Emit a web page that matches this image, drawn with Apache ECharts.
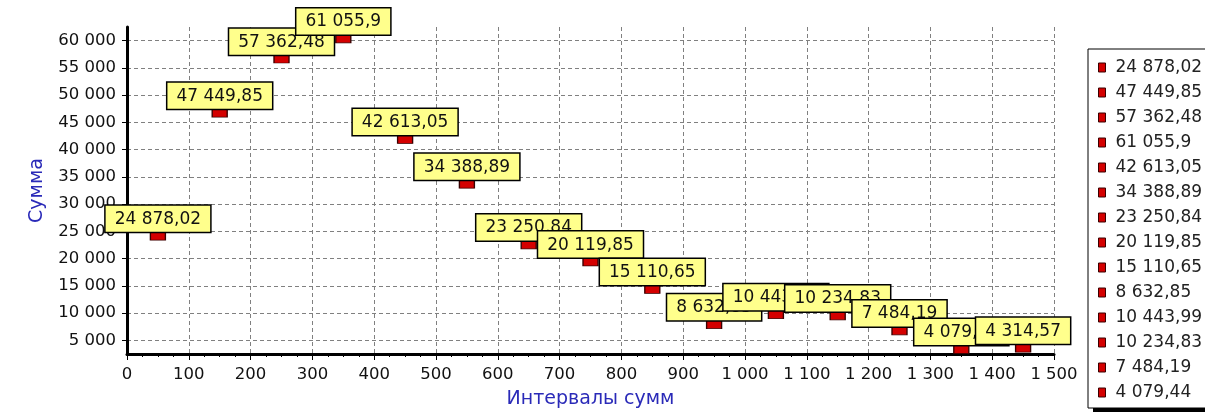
<!DOCTYPE html>
<html><head><meta charset="utf-8">
<script src="https://cdn.jsdelivr.net/npm/echarts@6/dist/echarts.min.js"></script>
<style>html,body{margin:0;padding:0;background:#fff}#c{width:1205px;height:416px}</style>
</head><body><div id="c"></div>
<script>
// Data
const intervalMids = [50, 150, 250, 350, 450, 550, 650, 750, 850, 950, 1050, 1150, 1250, 1350, 1450];
const sums = [24878.02, 47449.85, 57362.48, 61055.9, 42613.05, 34388.89, 23250.84, 20119.85, 15110.65, 8632.85, 10443.99, 10234.83, 7484.19, 4079.44, 4314.57];
const yTickValues = [5000, 10000, 15000, 20000, 25000, 30000, 35000, 40000, 45000, 50000, 55000, 60000];
const legendVisibleCount = 14;
const xAxisTitle = 'Интервалы сумм';
const yAxisTitle = 'Сумма';

const FONT = 'DejaVu Sans';
function fmt(v) {
  const parts = String(v).split('.');
  const ip = parts[0].replace(/\B(?=(\d{3})+(?!\d))/g, ' ');
  return parts[1] ? ip + ',' + parts[1] : ip;
}
const names = sums.map(fmt);

const chart = echarts.init(document.getElementById('c'), null, {renderer: 'canvas'});
chart.setOption({
  animation: false,
  backgroundColor: '#fff',
  grid: {left: 127, right: 151, top: 27, bottom: 62, containLabel: false, outerBoundsMode: 'none'},
  tooltip: {show: false},
  graphic: [{
    type: 'rect', z: 1, silent: true,
    shape: {x: 1093, y: 54, width: 200, height: 358},
    style: {fill: '#000'}
  }],
  legend: {
    z: 5,
    orient: 'vertical', left: 1088, top: 49,
    data: names.slice(0, legendVisibleCount),
    icon: 'rect', itemWidth: 7, itemHeight: 9, itemGap: 8,
    padding: [10, 40, 7, 10],
    backgroundColor: '#fff', borderColor: '#000', borderWidth: 1,
    selectedMode: false,
    itemStyle: {borderColor: '#3a0000', borderWidth: 1, opacity: 1},
    textStyle: {fontFamily: FONT, fontSize: 17, color: '#222', lineHeight: 17, padding: [0, 0, 0, 5]}
  },
  xAxis: {
    type: 'value', min: 0, max: 1500, interval: 100,
    axisLine: {show: true, onZero: false, lineStyle: {color: '#000', width: 3}},
    axisTick: {show: true, length: 6, lineStyle: {color: '#000', width: 1}},
    minorTick: {show: true, splitNumber: 4, length: 3, lineStyle: {color: '#000', width: 1}},
    axisLabel: {formatter: fmt, fontFamily: FONT, fontSize: 16.5, color: '#111', margin: 12, hideOverlap: false},
    splitLine: {show: true, lineStyle: {color: '#808080', type: [4, 3], width: 1}},
    name: xAxisTitle, nameLocation: 'middle', nameGap: 36,
    nameTextStyle: {fontFamily: FONT, fontSize: 19, color: '#2a2ab8'}
  },
  yAxis: {
    type: 'value', min: 2500, max: 62500,
    axisLine: {show: true, onZero: false, lineStyle: {color: '#000', width: 3}},
    axisTick: {show: true, length: 5, customValues: yTickValues, lineStyle: {color: '#000', width: 1}},
    axisLabel: {formatter: fmt, customValues: yTickValues, fontFamily: FONT, fontSize: 16.5, color: '#111', margin: 11},
    splitLine: {show: true, lineStyle: {color: '#808080', type: [4, 3], width: 1}},
    name: yAxisTitle, nameLocation: 'middle', nameGap: 80, nameRotate: 90,
    nameTextStyle: {fontFamily: FONT, fontSize: 19, color: '#2a2ab8'}
  },
  series: sums.map((v, i) => ({
    type: 'scatter', name: names[i],
    data: [[intervalMids[i], v]],
    symbol: 'rect', symbolSize: [15, 8], symbolOffset: [0, 4],
    itemStyle: {color: '#d40000', borderColor: '#3a0000', borderWidth: 1, opacity: 1},
    emphasis: {disabled: true},
    label: {
      show: true, position: 'top', distance: 0,
      formatter: names[i],
      fontFamily: FONT, fontSize: 17, color: '#111', lineHeight: 17,
      backgroundColor: '#ffff8c', borderColor: '#000', borderWidth: 1.5,
      padding: [5, 9, 4, 9]
    }
  }))
});
</script></body></html>
